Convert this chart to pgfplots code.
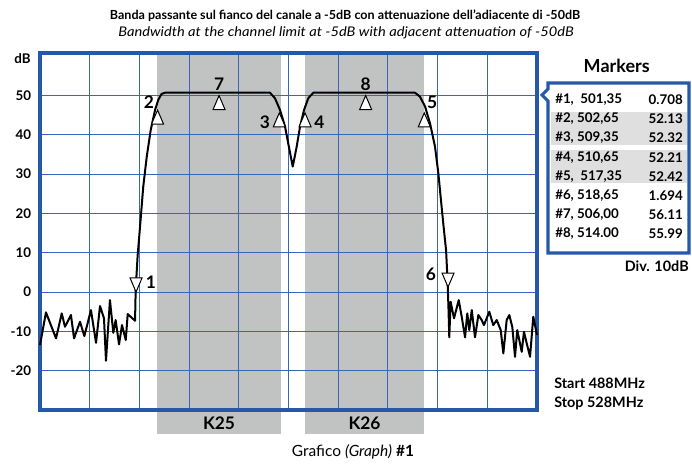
\documentclass[border=0pt]{standalone}
\usepackage{fontspec}
\setmainfont{Lato}
\usepackage{graphicx}
\usepackage{pgfplots}
\pgfplotsset{compat=1.18}
\definecolor{bordercol}{RGB}{36,88,168}
\definecolor{gridcol}{RGB}{58,102,185}
\definecolor{bandcol}{RGB}{193,194,194}
\definecolor{hlcol}{RGB}{223,223,223}
\begin{document}
\begin{tikzpicture}
\begin{scope}[x=0.75pt,y=-0.75pt]
\useasboundingbox (0,0) rectangle (692,461);
\node[font=\fontsize{9.4}{11}\selectfont\bfseries] at (345,16) {Banda passante sul fianco del canale a -5dB con attenuazione dell’adiacente di -50dB};
\node[font=\fontsize{10}{11}\selectfont\itshape] at (346,33) {\scalebox{1.1}[1]{Bandwidth at the channel limit at -5dB with adjacent attenuation of -50dB}};
\node[font=\fontsize{10}{10}\selectfont\bfseries] at (22.5,59) {dB};
\end{scope}
\begin{axis}[at={(30pt,-307.5pt)}, anchor=south west, scale only axis,
  width=372.75pt, height=267.75pt,
  xmin=488, xmax=528, ymin=-30, ymax=60.8, clip=false, set layers,
  xtick={492,496,...,524}, xticklabels={},
  ytick={-20,-10,10,20,30,40,50}, yticklabels={-20,-10,10,20,30,40,50},
  extra y ticks={0}, extra y tick labels={0},
  extra y tick style={grid style={gridcol, line width=1.6pt}},
  grid=major, major grid style={gridcol, line width=0.8pt},
  tick style={draw=none},
  axis line style={bordercol, line width=2.3pt},
  ticklabel style={font=\fontsize{10}{10}\selectfont\bfseries},
  yticklabel style={anchor=east, inner sep=0pt, xshift=-6.5pt}]
% channel bands
\addplot[on layer=axis background, fill=bandcol, draw=none] coordinates {(497.42,-36.13) (507.40,-36.13) (507.40,60.8) (497.42,60.8)} -- cycle;
\addplot[on layer=axis background, fill=bandcol, draw=none] coordinates {(509.33,-36.13) (518.91,-36.13) (518.91,60.8) (509.33,60.8)} -- cycle;
\node[font=\fontsize{13}{13}\selectfont\bfseries] at (axis cs:502.41,-33.26) {K25};
\node[font=\fontsize{13}{13}\selectfont\bfseries] at (axis cs:514.12,-33.26) {K26};
% trace
\addplot[black, line width=1.5pt, line join=round] coordinates {
(488.00,-13.49) (488.48,-5.17) (489.29,-11.78) (489.75,-5.42) (490.01,-8.83)
(490.49,-5.85) (490.74,-11.78) (491.22,-7.55) (491.57,-11.20) (492.10,-4.58)
(492.51,-12.90) (492.83,-3.56) (493.15,-6.69) (493.31,-17.47) (493.63,-2.04)
(493.90,-10.36) (494.09,-7.12) (494.36,-13.31) (494.60,-8.40) (494.90,-12.21)
(495.06,-5.60) (495.65,-7.30) (495.70,0.51) (495.86,9.4) (496.05,16.6)
(496.31,26.8) (496.59,34.4) (496.91,41.2) (497.26,46.3) (497.52,48.9)
(497.79,50.4) (498.06,50.7) (506.51,50.7) (506.91,49.3) (507.32,46.3)
(507.72,42.1) (507.98,37.8) (508.34,31.9) (508.66,37.0) (508.93,42.1)
(509.25,46.3) (509.59,49.3) (510.00,50.7) (518.18,50.7) (518.58,49.7)
(518.99,47.2) (519.39,42.9) (519.79,37.0) (520.06,30.2) (520.27,23.4)
(520.47,17.0) (520.68,10.7) (520.80,3.1) (520.88,-4.6) (520.94,-11.5)
(521.05,-2.47) (521.32,-6.69) (521.70,-2.04) (521.94,-6.28) (522.21,-11.53)
(522.39,-5.42) (522.55,-9.67) (522.75,-4.58) (523.01,-11.53) (523.28,-5.85)
(523.55,-7.12) (523.73,-8.40) (524.16,-5.01) (524.48,-8.40) (524.76,-7.12)
(525.08,-9.67) (525.29,-15.60) (525.56,-7.12) (525.77,-5.85) (526.01,-8.83)
(526.23,-16.46) (526.41,-9.67) (526.77,-15.19) (526.95,-10.10) (527.17,-13.05)
(527.44,-16.46) (527.70,-6.28) (528.00,-10.9)};
% markers
\addplot[only marks, mark=triangle*, mark size=5.2pt, mark options={fill=white, draw=black, line width=0.75pt, yscale=1.35}] coordinates {
(497.46,43.9) (507.26,43.2) (509.33,43.2) (518.93,43.2) (502.41,47.6) (514.21,47.6)};
\addplot[only marks, mark=triangle*, mark size=5.2pt, mark options={fill=white, draw=black, line width=0.75pt, yscale=1.35, rotate=180}] coordinates {
(495.73,2.4) (520.84,3.65)};
\begin{scope}[every node/.style={font=\fontsize{13}{13}\selectfont\bfseries}]
\node at (axis cs:496.93,2.5) {1};
\node at (axis cs:496.77,48.4) {2};
\node at (axis cs:506.11,43.3) {3};
\node at (axis cs:510.48,43.3) {4};
\node at (axis cs:519.57,48.2) {5};
\node at (axis cs:519.47,4.5) {6};
\node at (axis cs:502.41,52.9) {7};
\node at (axis cs:514.21,52.9) {8};
\end{scope}
\end{axis}
\begin{scope}[x=0.75pt,y=-0.75pt]
\node[font=\fontsize{13.5}{14}\selectfont\bfseries] at (616.7,66) {Markers};
\fill[hlcol] (550.5,111.7) rectangle (687,145);
\fill[hlcol] (550.5,150) rectangle (687,182.7);
\draw[bordercol, line width=2.3pt, line join=miter] (548,101) -- (548,253) -- (689,253) -- (689,83) -- (548,83) -- (548,89) -- (542,95) -- cycle;
\begin{scope}[every node/.style={font=\fontsize{10}{10}\selectfont\bfseries, inner sep=0pt}]
\node[anchor=west] at (555,99.3) {\#1,\ \ 501,35};
\node[anchor=west] at (555,119) {\#2, 502,65};
\node[anchor=west] at (555,137.7) {\#3, 509,35};
\node[anchor=west] at (555,157.3) {\#4, 510,65};
\node[anchor=west] at (555,176.7) {\#5,\ \ 517,35};
\node[anchor=west] at (555,195.7) {\#6, 518,65};
\node[anchor=west] at (555,215) {\#7, 506,00};
\node[anchor=west] at (555,234) {\#8, 514.00};
\node[anchor=east] at (683,99.3) {0.708};
\node[anchor=east] at (683,119) {52.13};
\node[anchor=east] at (683,137.7) {52.32};
\node[anchor=east] at (683,157.3) {52.21};
\node[anchor=east] at (683,176.7) {52.42};
\node[anchor=east] at (683,195.7) {1.694};
\node[anchor=east] at (683,215) {56.11};
\node[anchor=east] at (683,234) {55.99};
\end{scope}
\begin{scope}[every node/.style={font=\fontsize{10.8}{11}\selectfont\bfseries, inner sep=0pt}]
\node[anchor=east] at (689,266.7) {Div. 10dB};
\node[anchor=west] at (554,383) {Start 488MHz};
\node[anchor=west] at (554,403) {Stop 528MHz};
\end{scope}
\node[font=\fontsize{11.6}{12}\selectfont] at (353,452) {Grafico \textit{(Graph)} \textbf{\#1}};
\end{scope}
\end{tikzpicture}
\end{document}
